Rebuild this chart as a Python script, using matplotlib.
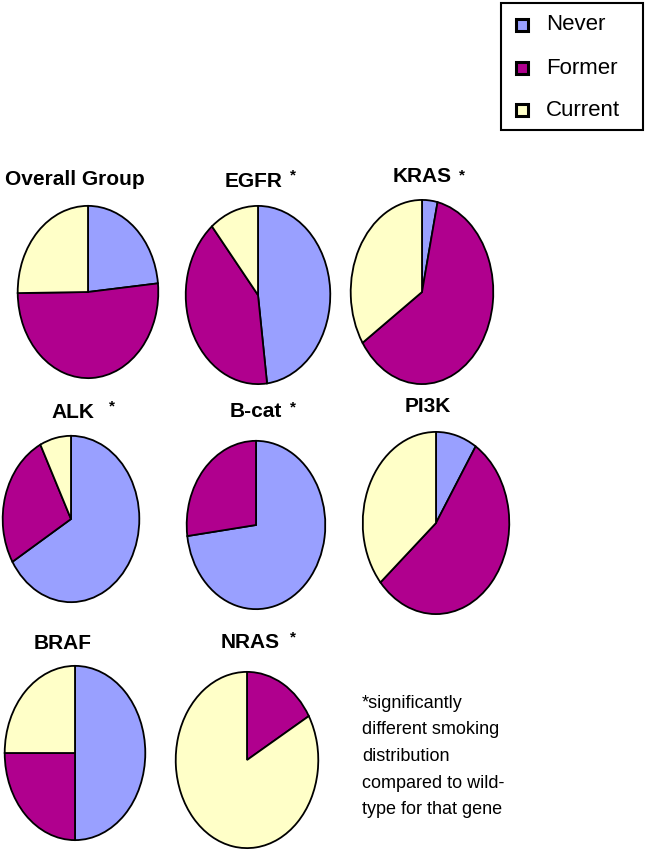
import matplotlib
matplotlib.use("Agg")
import matplotlib.pyplot as plt
from matplotlib import font_manager
from matplotlib.patches import Rectangle

# smoking status share (%) per mutation group
groups = ["Overall Group", "EGFR", "KRAS", "ALK", "B-cat", "PI3K", "BRAF", "NRAS"]
never = [23.4, 48, 3.5, 66.4, 72.9, 9.1, 50, 0]
former = [51.4, 41, 62.2, 26.2, 27.1, 54.6, 25, 16.7]
current = [25.2, 11, 34.3, 7.4, 0, 36.3, 25, 83.3]
significant = [False, True, True, True, True, False, False, True]

status = ["Never", "Former", "Current"]
colors = ["#99A0FF", "#B0008E", "#FFFFC8"]

footnote = ["*significantly", "different smoking", "distribution",
            "compared to wild-", "type for that gene"]

W, H = 646, 852

# pie boxes in pixels: centre x, centre y, half width, half height
boxes = [(88, 292, 71, 87), (258, 295, 73, 90), (422, 292, 72, 93),
         (71, 519, 69, 84), (256, 525, 70, 85), (436, 523, 74, 92),
         (75, 753, 71, 88), (247, 760, 72, 89)]
# title centre x, baseline y ; asterisk x, y
title_pos = [(75, 185), (254, 187), (422, 182), (73, 418),
             (256, 417), (428, 412), (63, 649), (250, 648)]
star_pos = [None, (293, 175), (462, 175), (112, 406),
            (293, 407), None, None, (293, 637)]

names = {f.name for f in font_manager.fontManager.ttflist}
if "Liberation Sans Narrow" in names:
    title_font = ["Liberation Sans Narrow", "Liberation Sans"]
    tsize, nsize = 18, 15.5
else:
    title_font = ["Liberation Sans", "DejaVu Sans"]
    tsize, nsize = 15, 13

fig = plt.figure(figsize=(W / 100, H / 100), dpi=100)
fig.patch.set_facecolor("white")


def fx(x):
    return x / W


def fy(y):
    return 1 - y / H


for i, g in enumerate(groups):
    cx, cy, rx, ry = boxes[i]
    ax = fig.add_axes([fx(cx - rx), fy(cy + ry), 2 * rx / W, 2 * ry / H])
    vals, cols = [], []
    for v, c in zip([never[i], former[i], current[i]], colors):
        if v > 0:
            vals.append(v)
            cols.append(c)
    ax.pie(vals, colors=cols, startangle=90, counterclock=False, radius=0.99,
           wedgeprops=dict(edgecolor="black", linewidth=1.3))
    ax.set_aspect("auto")
    ax.set_xlim(-1, 1)
    ax.set_ylim(-1, 1)
    ax.axis("off")

    tx, ty = title_pos[i]
    fig.text(fx(tx), fy(ty), g, ha="center", va="baseline", fontsize=tsize,
             fontweight="bold", family=title_font)
    if significant[i]:
        sx, sy = star_pos[i]
        fig.text(fx(sx), fy(sy), "*", ha="center", va="center", fontsize=11,
                 fontweight="bold", family=["Liberation Sans"])

# legend box
fig.patches.append(Rectangle((fx(501), fy(130)), 142 / W, 127 / H,
                             transform=fig.transFigure, facecolor="white",
                             edgecolor="black", linewidth=1.5))
for j, (s, c) in enumerate(zip(status, colors)):
    ly = [25, 68, 110][j]
    fig.patches.append(Rectangle((fx(522 - 6), fy(ly + 6)), 12 / W, 12 / H,
                                 transform=fig.transFigure, facecolor=c,
                                 edgecolor="black", linewidth=2.2))
    fig.text(fx(546), fy(ly), s, ha="left", va="center", fontsize=16,
             family=["Liberation Sans"])

for k, line in enumerate(footnote):
    fig.text(fx(362), fy(708 + 26.5 * k), line, ha="left", va="baseline",
             fontsize=nsize, family=title_font)

fig.savefig("out.png", dpi=100)
